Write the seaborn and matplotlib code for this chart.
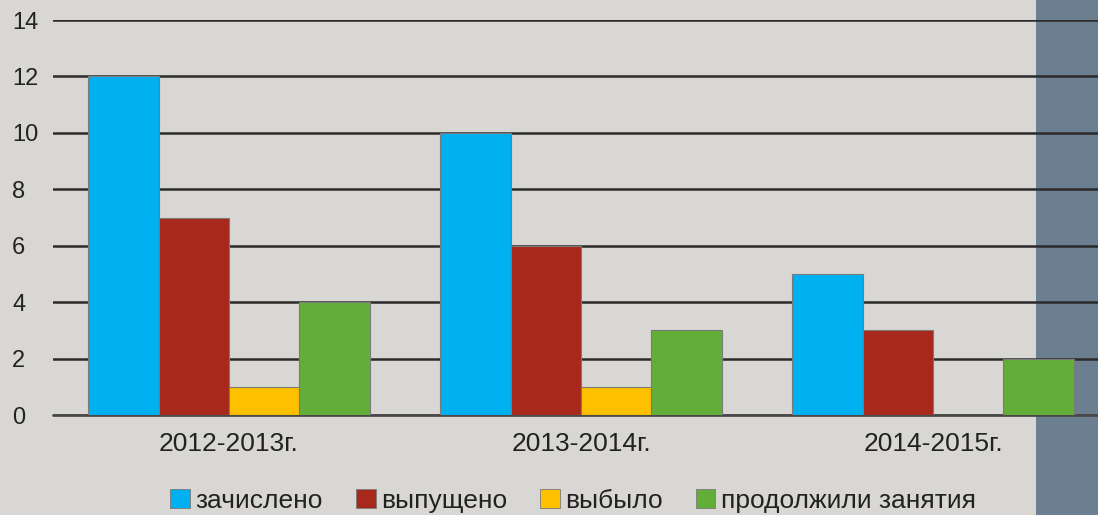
import matplotlib
matplotlib.use("Agg")
import matplotlib.pyplot as plt
import matplotlib.patches as mpatches
import pandas as pd
import seaborn as sns

# --- data ---
years = ["2012-2013г.", "2013-2014г.", "2014-2015г."]
series = ["зачислено", "выпущено", "выбыло", "продолжили занятия"]
enrolled = [12, 10, 5]
graduated = [7, 6, 3]
dropped = [1, 1, 0]
continued = [4, 3, 2]
yticks = [0, 2, 4, 6, 8, 10, 12, 14]

colors = ["#00b0f0", "#a8291b", "#ffc000", "#63ad39"]

df = pd.DataFrame({
    "year": years * 4,
    "series": [s for s in series for _ in years],
    "value": enrolled + graduated + dropped + continued,
})

sns.set_theme(style="white")
plt.rcParams["font.family"] = ["Liberation Sans", "DejaVu Sans"]

fig = plt.figure(figsize=(10.98, 5.15), dpi=100)
fig.patch.set_facecolor("#d9d7d3")

# background layer: stone strip on the right edge, behind the chart
bg = fig.add_axes([0, 0, 1, 1], zorder=-1)
bg.set_xlim(0, 1098)
bg.set_ylim(0, 515)
bg.axis("off")
bg.add_patch(mpatches.Rectangle((1036, 0), 62, 515, facecolor="#6c7f90", edgecolor="none"))

ax = fig.add_axes([53 / 1098, 100 / 515, 1056 / 1098, 395 / 515], zorder=1)
ax.set_facecolor("none")

sns.barplot(data=df, x="year", y="value", hue="series", hue_order=series,
            palette=colors, saturation=1, width=0.8, edgecolor="#7a7a7a",
            linewidth=0.8, ax=ax, legend=False, zorder=3)

ax.set_ylim(0, 14)
ax.set_yticks(yticks)
ax.set_yticklabels([str(t) for t in yticks], ha="left")
ax.yaxis.grid(True, color="#2b2b2b", linewidth=1.8, zorder=1)
ax.axhline(0, color="#4a4a4a", linewidth=2, zorder=2, clip_on=False)
ax.set_axisbelow(True)
for sp in ax.spines.values():
    sp.set_visible(False)
ax.tick_params(axis="both", length=0, colors="#222222")
ax.tick_params(axis="y", pad=29.5, labelsize=17)
ax.tick_params(axis="x", pad=12, labelsize=19)
ax.set_xlabel("")
ax.set_ylabel("")

handles = [mpatches.Patch(facecolor=c, edgecolor="#7a7a7a", linewidth=0.6) for c in colors]
fig.legend(handles, series, loc="center", bbox_to_anchor=(573 / 1098, 1 - 501 / 515),
           ncol=4, frameon=False, fontsize=19, handlelength=0.75, handleheight=0.75,
           handletextpad=0.2, columnspacing=1.25, labelcolor="#222222")

fig.savefig("out.png", dpi=100, facecolor=fig.get_facecolor())
